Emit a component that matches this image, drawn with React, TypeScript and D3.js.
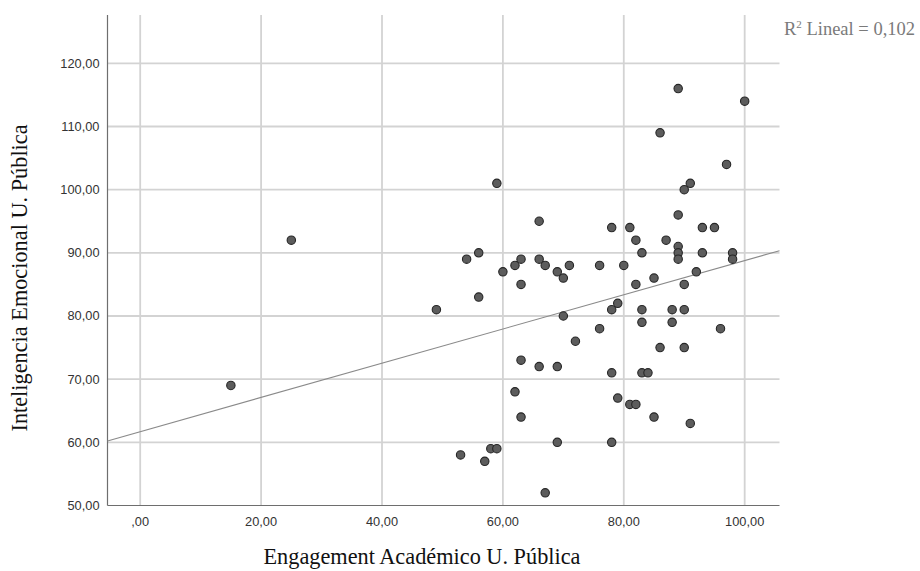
import React from "react";
import * as d3 from "d3";

// Engagement académico (x) vs. inteligencia emocional (y), universidad pública
const engagement: number[] = [
  15, 25, 49, 53, 54, 56, 56, 57, 58, 59, 59, 60, 62, 63, 63, 62, 63, 63, 66, 66,
  67, 66, 67, 69, 70, 71, 70, 69, 69, 72, 76, 76, 78, 78, 78, 78, 79, 79, 80, 81,
  81, 82, 82, 82, 83, 83, 83, 83, 84, 85, 85, 86, 86, 87, 88, 88, 89, 89, 89, 89,
  89, 90, 91, 90, 90, 90, 91, 92, 93, 93, 95, 96, 97, 98, 98, 100,
];
const inteligencia: number[] = [
  69, 92, 81, 58, 89, 90, 83, 57, 59, 59, 101, 87, 88, 89, 85, 68, 73, 64, 95, 89,
  88, 72, 52, 87, 86, 88, 80, 72, 60, 76, 88, 78, 94, 81, 71, 60, 82, 67, 88, 94,
  66, 92, 85, 66, 90, 81, 79, 71, 71, 86, 64, 75, 109, 92, 81, 79, 96, 91, 90, 89,
  116, 100, 101, 85, 81, 75, 63, 87, 94, 90, 94, 78, 104, 90, 89, 114,
];

const xTicks: number[] = [0, 20, 40, 60, 80, 100];
const yTicks: number[] = [50, 60, 70, 80, 90, 100, 110, 120];
const xTitle = "Engagement Académico U. Pública";
const yTitle = "Inteligencia Emocional U. Pública";
const fitLabel = "Lineal = 0,102";

const fmt = (v: number) => {
  const s = v.toFixed(2).replace(".", ",");
  return s.startsWith("0,") ? s.slice(1) : s;
};

export default function App() {
  const W = 920;
  const H = 571;
  const left = 107.5;
  const right = 779.5;
  const top = 15;
  const bottom = 505.5;

  const x = d3.scaleLinear().domain([-5.41, 105.76]).range([left, right]);
  const y = d3.scaleLinear().domain([50, 127.65]).range([bottom, top]);

  const pts = engagement.map((e, i) => ({ e, v: inteligencia[i] }));

  // least-squares line through the points
  const mx = d3.mean(engagement)!;
  const my = d3.mean(inteligencia)!;
  const sxy = d3.sum(pts, (p) => (p.e - mx) * (p.v - my));
  const sxx = d3.sum(pts, (p) => (p.e - mx) ** 2);
  const slope = sxy / sxx;
  const intercept = my - slope * mx;
  const [x0, x1] = x.domain();
  const line = d3
    .line<number>()
    .x((d) => x(d))
    .y((d) => y(intercept + slope * d));

  const gridColor = "#d3d3d3";
  const axisColor = "#6e6e6e";
  const sans = "'Liberation Sans', Arial, sans-serif";
  const serif = "'Liberation Serif', 'Times New Roman', serif";

  return (
    <svg
      width={W}
      height={H}
      viewBox={`0 0 ${W} ${H}`}
      style={{ position: "absolute", left: 0, top: 0, background: "#fff" }}
    >
      <rect x={0} y={0} width={W} height={H} fill="#fff" />
      {/* grid */}
      {yTicks
        .filter((t) => t > 50)
        .map((t) => (
          <line
            key={"gy" + t}
            x1={left}
            x2={right}
            y1={y(t)}
            y2={y(t)}
            stroke={gridColor}
            strokeWidth={1.8}
          />
        ))}
      {xTicks.map((t) => (
        <line
          key={"gx" + t}
          x1={x(t)}
          x2={x(t)}
          y1={top}
          y2={bottom}
          stroke={gridColor}
          strokeWidth={1.8}
        />
      ))}
      {/* axes */}
      <line x1={left} x2={left} y1={top} y2={bottom} stroke={axisColor} strokeWidth={1.2} />
      <line x1={left} x2={right} y1={bottom} y2={bottom} stroke={axisColor} strokeWidth={1.2} />

      {/* tick labels */}
      {yTicks.map((t) => (
        <text
          key={"ty" + t}
          x={99.5}
          y={y(t) + 4.5}
          textAnchor="end"
          fontFamily={sans}
          fontSize={12.8}
          fill="#333"
        >
          {fmt(t)}
        </text>
      ))}
      {xTicks.map((t) => (
        <text
          key={"tx" + t}
          x={x(t)}
          y={526}
          textAnchor="middle"
          fontFamily={sans}
          fontSize={12.8}
          fill="#333"
        >
          {fmt(t)}
        </text>
      ))}

      {/* fit line */}
      <path d={line([x0, x1]) ?? ""} fill="none" stroke="#8a8a8a" strokeWidth={1.1} />

      {/* points */}
      {pts.map((p, i) => (
        <circle
          key={i}
          cx={x(p.e)}
          cy={y(p.v)}
          r={4.2}
          fill="#5c5c5c"
          stroke="#262626"
          strokeWidth={1.1}
        />
      ))}

      {/* titles */}
      <text
        x={422}
        y={564}
        textAnchor="middle"
        fontFamily={serif}
        fontSize={22.3}
        fill="#111"
      >
        {xTitle}
      </text>
      <text
        transform={`translate(27,278) rotate(-90)`}
        textAnchor="middle"
        fontFamily={serif}
        fontSize={22.3}
        fill="#111"
      >
        {yTitle}
      </text>

      {/* fit legend */}
      <text x={784} y={35} fontFamily={serif} fontSize={18.5} fill="#7a7a7a">
        R<tspan fontSize={11} dy={-7}>2</tspan>
        <tspan dy={7}> {fitLabel}</tspan>
      </text>
    </svg>
  );
}
